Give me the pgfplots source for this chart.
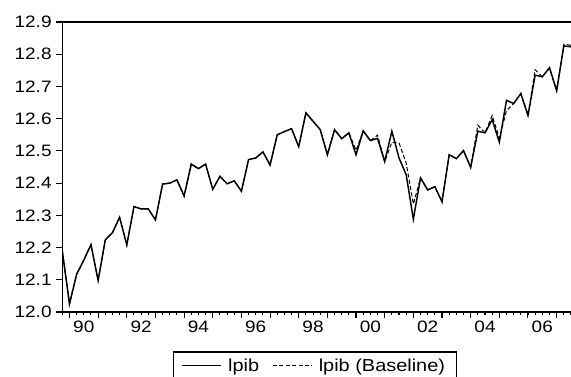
\documentclass[border=0pt]{standalone}
\usepackage{fontspec}
\setmainfont{Liberation Sans}[FakeStretch=1.15]
\usepackage{pgfplots}
\usepackage{pgfplotstable}
\pgfplotsset{compat=1.18}

\pgfplotstableread{
x lpib base
1989.75 12.190 12.190
1990.00 12.025 12.025
1990.25 12.117 12.117
1990.50 12.161 12.161
1990.75 12.209 12.209
1991.00 12.098 12.098
1991.25 12.224 12.224
1991.50 12.246 12.246
1991.75 12.294 12.294
1992.00 12.208 12.208
1992.25 12.327 12.327
1992.50 12.320 12.320
1992.75 12.320 12.320
1993.00 12.286 12.286
1993.25 12.397 12.397
1993.50 12.400 12.400
1993.75 12.410 12.410
1994.00 12.360 12.360
1994.25 12.459 12.459
1994.50 12.445 12.445
1994.75 12.459 12.459
1995.00 12.381 12.381
1995.25 12.421 12.421
1995.50 12.398 12.398
1995.75 12.407 12.407
1996.00 12.375 12.375
1996.25 12.473 12.473
1996.50 12.478 12.478
1996.75 12.497 12.497
1997.00 12.456 12.456
1997.25 12.550 12.550
1997.50 12.560 12.560
1997.75 12.569 12.569
1998.00 12.513 12.513
1998.25 12.618 12.618
1998.50 12.592 12.592
1998.75 12.566 12.566
1999.00 12.488 12.488
1999.25 12.566 12.566
1999.50 12.538 12.538
1999.75 12.556 12.556
2000.00 12.488 12.502
2000.25 12.562 12.562
2000.50 12.532 12.532
2000.75 12.539 12.549
2001.00 12.467 12.467
2001.25 12.561 12.527
2001.50 12.478 12.525
2001.75 12.426 12.462
2002.00 12.288 12.335
2002.25 12.416 12.416
2002.50 12.379 12.379
2002.75 12.389 12.389
2003.00 12.342 12.342
2003.25 12.488 12.488
2003.50 12.476 12.476
2003.75 12.501 12.501
2004.00 12.449 12.449
2004.25 12.561 12.580
2004.50 12.556 12.556
2004.75 12.597 12.610
2005.00 12.527 12.540
2005.25 12.657 12.625
2005.50 12.647 12.647
2005.75 12.678 12.678
2006.00 12.610 12.610
2006.25 12.735 12.752
2006.50 12.730 12.730
2006.75 12.758 12.758
2007.00 12.687 12.687
2007.25 12.826 12.831
2007.50 12.823 12.828
}\data

\begin{document}
\begin{tikzpicture}
\path[use as bounding box] (0,0) rectangle (428.25pt,282pt);
\begin{axis}[
  at={(46.73pt,48pt)}, anchor=south west,
  scale only axis, width=381.5pt, height=217.5pt,
  xmin=1989.75, xmax=2007.5, ymin=12.0, ymax=12.9,
  separate axis lines,
  axis x line*=box, axis y line*=left,
  axis line style={line width=1pt},
  tick align=outside,
  xtick pos=bottom, ytick pos=left,
  xtick={1990,...,2007}, xticklabels={},
  minor xtick={1989.75,1990,...,2007.5},
  extra x ticks={1990.5,1992.5,1994.5,1996.5,1998.5,2000.5,2002.5,2004.5,2006.5},
  extra x tick labels={90,92,94,96,98,00,02,04,06},
  extra x tick style={major tick length=0pt, xticklabel style={yshift=-3.5pt}},
  ytick={12.0,12.1,...,12.9},
  yticklabel style={/pgf/number format/.cd, fixed, fixed zerofill, precision=1},
  /pgf/number format/assume math mode=true,
  major tick length=4.5pt, minor tick length=2.3pt,
  every tick/.style={black, line width=0.8pt},
  tick label style={font=\fontsize{12.4}{14}\selectfont},
  legend columns=2,
  legend style={at={(rel axis cs:0.217,-0.136)}, anchor=north west,
    draw=black, line width=0.8pt, font=\fontsize{13}{15}\selectfont,
    inner xsep=6.5pt, inner ysep=3pt,
    /tikz/every odd column/.append style={column sep=3pt},
    /tikz/every even column/.append style={column sep=8pt}},
  legend image code/.code={\draw[#1, line width=0.7pt] (0pt,0pt) -- (29pt,0pt);},
]
\addplot[black, line width=1.1pt] table[x=x, y=lpib] {\data};
\addlegendentry{lpib}
\addplot[black, line width=0.75pt, dash pattern=on 3pt off 1.8pt] table[x=x, y=base] {\data};
\addlegendentry{lpib (Baseline)}
\end{axis}
\end{tikzpicture}
\end{document}
